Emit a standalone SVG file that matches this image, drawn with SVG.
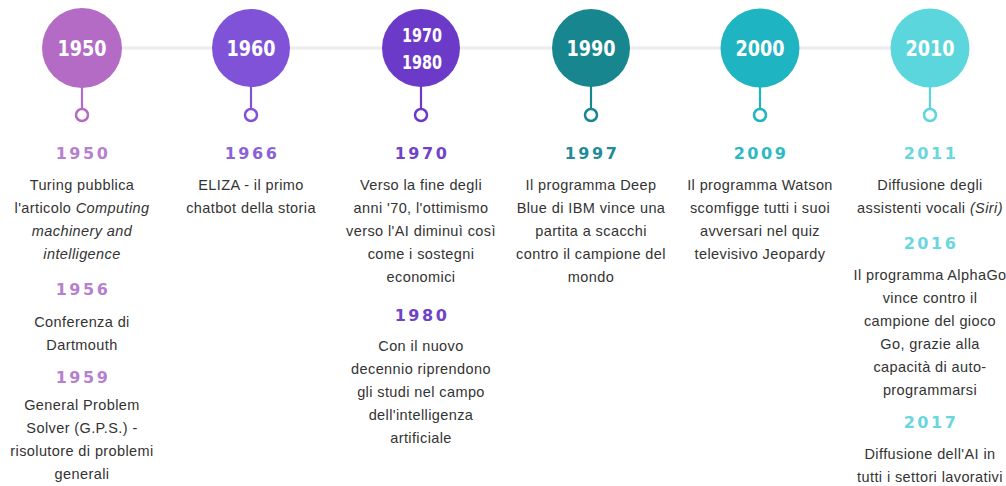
<svg xmlns="http://www.w3.org/2000/svg" width="1006" height="486" viewBox="0 0 1006 486">
<style>
.lbl{font-family:"DejaVu Sans Condensed","Liberation Sans Narrow","DejaVu Sans",sans-serif;font-weight:bold;fill:#ffffff;text-anchor:middle;font-size:21px}
.hd{font-family:"DejaVu Sans","Liberation Sans",sans-serif;font-weight:bold;font-size:16px;letter-spacing:2.5px;text-anchor:middle}
.tx{font-family:"Liberation Sans",Arial,sans-serif;font-size:14.5px;letter-spacing:0.4px;fill:#333333;text-anchor:middle}
.it{font-style:italic}
.stem{stroke-width:2.2;fill:none}
.dot{stroke-width:2.5;fill:#ffffff}
</style>
<rect width="1006" height="486" fill="#ffffff"/>
<g id="connectors">
<line x1="82" y1="48" x2="930" y2="48" stroke="#ececec" stroke-width="3"/>
</g>
<g id="node-1950">
<line class="stem" x1="82" y1="86" x2="82" y2="109" stroke="#b36bc5"/>
<circle class="dot" cx="82" cy="115" r="6" stroke="#b36bc5"/>
<circle cx="82" cy="48" r="40" fill="#b36bc5"/>
<text class="lbl" x="82" y="56" textLength="49" lengthAdjust="spacingAndGlyphs">1950</text>
<text class="hd" x="83" y="159" fill="#b77fcf">1950</text>
<text class="tx" x="82" y="190">Turing pubblica</text>
<text class="tx" x="82" y="213">l'articolo <tspan class="it">Computing</tspan></text>
<text class="tx it" x="82" y="236">machinery and</text>
<text class="tx it" x="82" y="259">intelligence</text>
<text class="hd" x="83" y="295" fill="#b77fcf">1956</text>
<text class="tx" x="82" y="327">Conferenza di</text>
<text class="tx" x="82" y="350">Dartmouth</text>
<text class="hd" x="83" y="383" fill="#b77fcf">1959</text>
<text class="tx" x="82" y="410">General Problem</text>
<text class="tx" x="82" y="433">Solver (G.P.S.) -</text>
<text class="tx" x="82" y="456">risolutore di problemi</text>
<text class="tx" x="82" y="479">generali</text>
</g>
<g id="node-1960">
<line class="stem" x1="251" y1="86" x2="251" y2="109" stroke="#8052d8"/>
<circle class="dot" cx="251" cy="115" r="6" stroke="#8052d8"/>
<circle cx="251" cy="48" r="39" fill="#8052d8"/>
<text class="lbl" x="251" y="56" textLength="49" lengthAdjust="spacingAndGlyphs">1960</text>
<text class="hd" x="252" y="159" fill="#8a62d6">1966</text>
<text class="tx" x="251" y="190">ELIZA - il primo</text>
<text class="tx" x="251" y="213">chatbot della storia</text>
</g>
<g id="node-1970-1980">
<line class="stem" x1="421" y1="86" x2="421" y2="109" stroke="#6c3ac9"/>
<circle class="dot" cx="421" cy="115" r="6" stroke="#6c3ac9"/>
<circle cx="421" cy="48" r="39" fill="#6c3ac9"/>
<text class="lbl" x="422" y="42" style="font-size:19px" textLength="40" lengthAdjust="spacingAndGlyphs">1970</text>
<text class="lbl" x="422" y="69" style="font-size:19px" textLength="40" lengthAdjust="spacingAndGlyphs">1980</text>
<text class="hd" x="422" y="159" fill="#7042c9">1970</text>
<text class="tx" x="421" y="190">Verso la fine degli</text>
<text class="tx" x="421" y="213">anni '70,  l'ottimismo</text>
<text class="tx" x="421" y="236">verso l'AI diminuì così</text>
<text class="tx" x="421" y="259">come i sostegni</text>
<text class="tx" x="421" y="282">economici</text>
<text class="hd" x="422" y="321" fill="#7042c9">1980</text>
<text class="tx" x="421" y="351">Con il nuovo</text>
<text class="tx" x="421" y="374">decennio riprendono</text>
<text class="tx" x="421" y="397">gli studi nel campo</text>
<text class="tx" x="421" y="420">dell'intelligenza</text>
<text class="tx" x="421" y="443">artificiale</text>
</g>
<g id="node-1990">
<line class="stem" x1="591" y1="86" x2="591" y2="109" stroke="#17868f"/>
<circle class="dot" cx="591" cy="115" r="6" stroke="#17868f"/>
<circle cx="591" cy="48" r="39" fill="#17868f"/>
<text class="lbl" x="591" y="56" textLength="49" lengthAdjust="spacingAndGlyphs">1990</text>
<text class="hd" x="592" y="159" fill="#228b97">1997</text>
<text class="tx" x="591" y="190">Il programma Deep</text>
<text class="tx" x="591" y="213">Blue di IBM vince una</text>
<text class="tx" x="591" y="236">partita a scacchi</text>
<text class="tx" x="591" y="259">contro il campione del</text>
<text class="tx" x="591" y="282">mondo</text>
</g>
<g id="node-2000">
<line class="stem" x1="760" y1="86" x2="760" y2="109" stroke="#1fb4c1"/>
<circle class="dot" cx="760" cy="115" r="6" stroke="#1fb4c1"/>
<circle cx="760" cy="48" r="39.5" fill="#1fb4c1"/>
<text class="lbl" x="760" y="56" textLength="49" lengthAdjust="spacingAndGlyphs">2000</text>
<text class="hd" x="761" y="159" fill="#2db8c4">2009</text>
<text class="tx" x="760" y="190">Il programma Watson</text>
<text class="tx" x="760" y="213">scomfigge tutti i suoi</text>
<text class="tx" x="760" y="236">avversari nel quiz</text>
<text class="tx" x="760" y="259">televisivo Jeopardy</text>
</g>
<g id="node-2010">
<line class="stem" x1="930" y1="86" x2="930" y2="109" stroke="#5cd6dd"/>
<circle class="dot" cx="930" cy="115" r="6" stroke="#5cd6dd"/>
<circle cx="930" cy="48" r="39.5" fill="#5cd6dd"/>
<text class="lbl" x="930" y="56" textLength="49" lengthAdjust="spacingAndGlyphs">2010</text>
<text class="hd" x="931" y="159" fill="#6ad6de">2011</text>
<text class="tx" x="930" y="190">Diffusione degli</text>
<text class="tx" x="930" y="213">assistenti vocali <tspan class="it">(Siri)</tspan></text>
<text class="hd" x="931" y="249" fill="#6ad6de">2016</text>
<text class="tx" x="930" y="280">Il programma AlphaGo</text>
<text class="tx" x="930" y="303">vince contro il</text>
<text class="tx" x="930" y="326">campione del gioco</text>
<text class="tx" x="930" y="349">Go, grazie alla</text>
<text class="tx" x="930" y="372">capacità di auto-</text>
<text class="tx" x="930" y="395">programmarsi</text>
<text class="hd" x="931" y="428" fill="#6ad6de">2017</text>
<text class="tx" x="930" y="459">Diffusione dell'AI in</text>
<text class="tx" x="930" y="482">tutti i settori lavorativi</text>
</g>
</svg>
